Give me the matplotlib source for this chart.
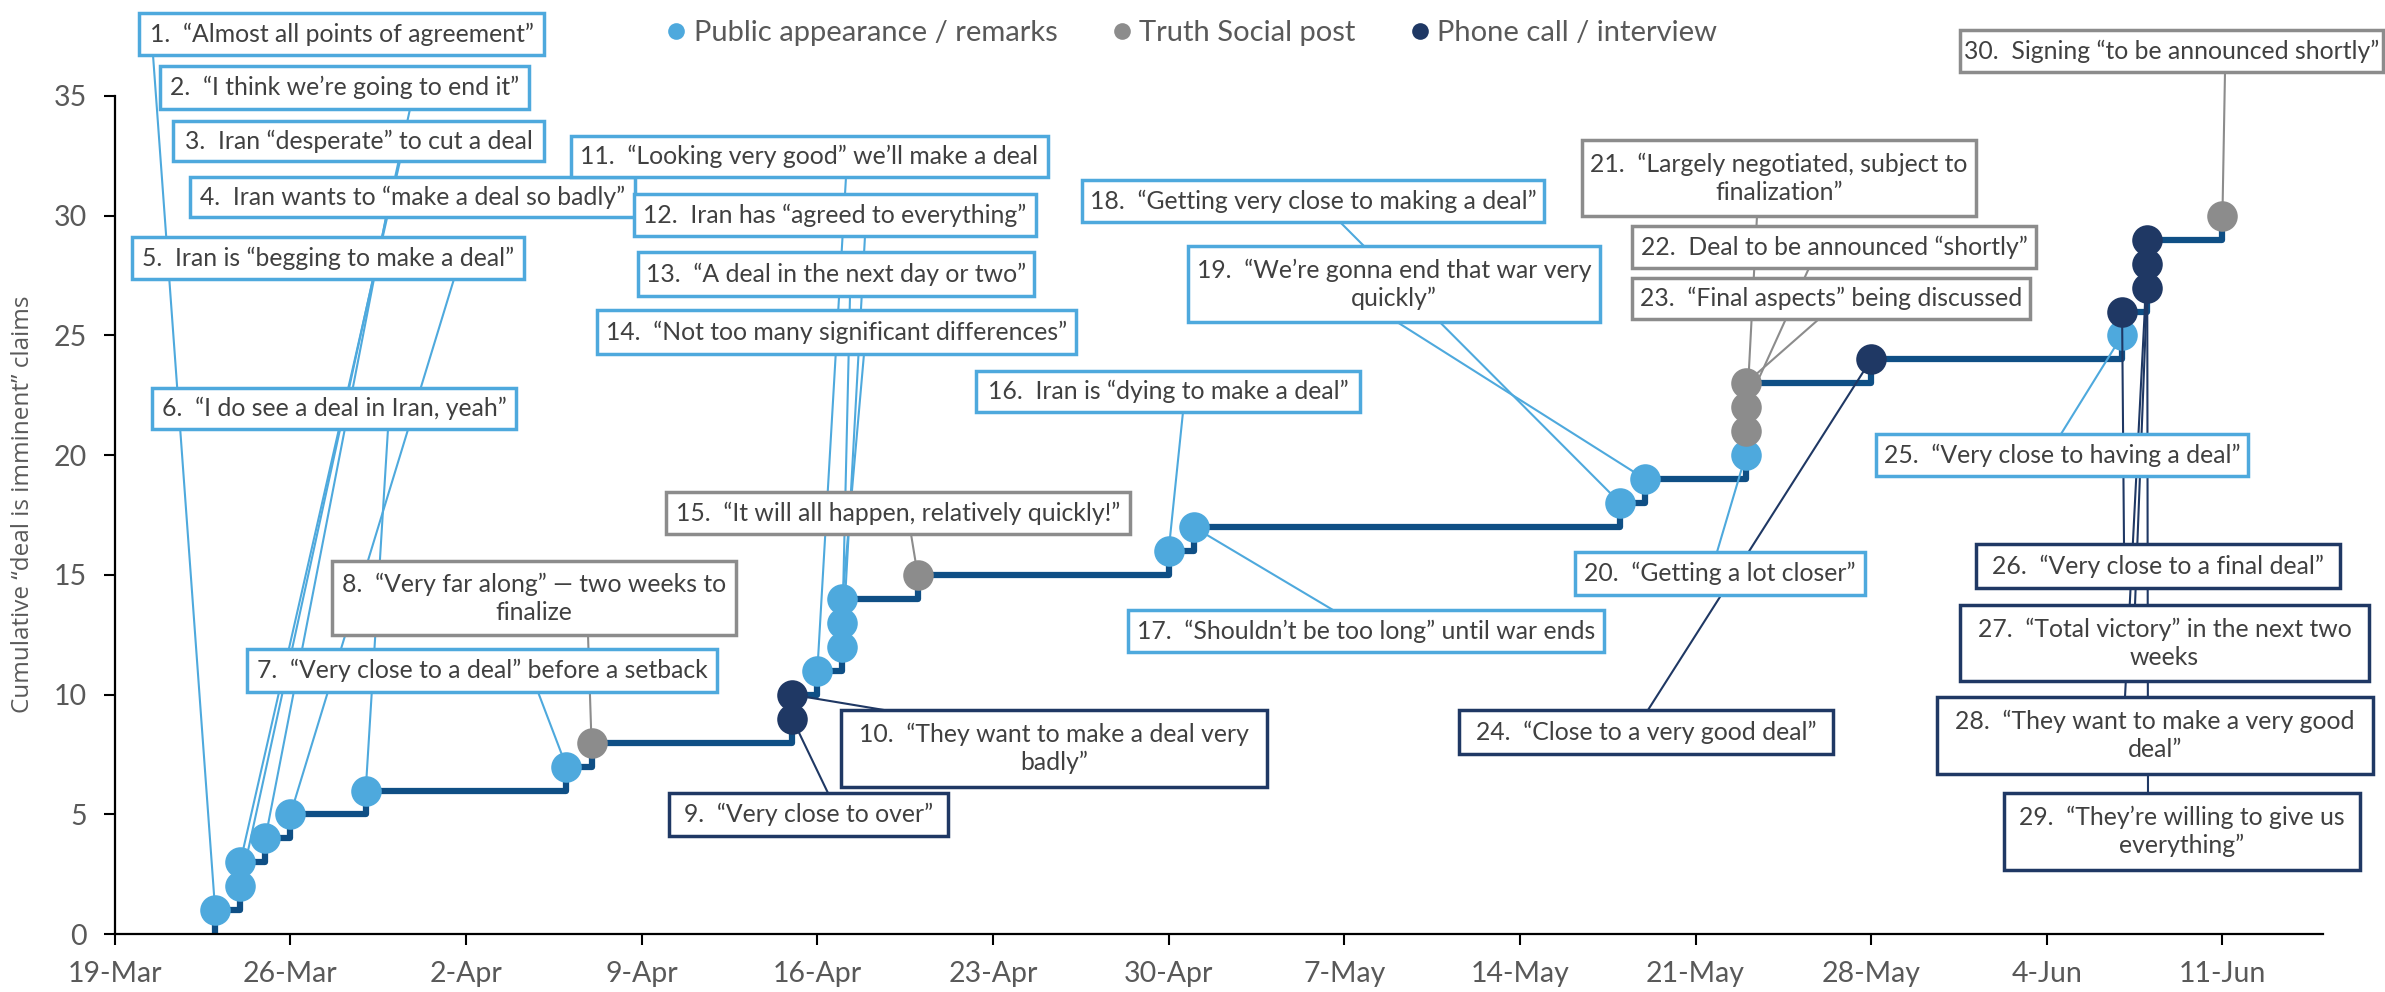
import matplotlib
matplotlib.use('Agg')
import matplotlib.pyplot as plt
import matplotlib.dates as mdates
from matplotlib.patches import Rectangle, ConnectionPatch
from matplotlib.lines import Line2D
import numpy as np
import pandas as pd

plt.rcParams['font.family'] = ['Lato', 'DejaVu Sans']

# --- data ---------------------------------------------------------------
dates = pd.to_datetime([
    '2026-03-23', '2026-03-24', '2026-03-24', '2026-03-25', '2026-03-26',
    '2026-03-29', '2026-04-06', '2026-04-07', '2026-04-15', '2026-04-15',
    '2026-04-16', '2026-04-17', '2026-04-17', '2026-04-17', '2026-04-20',
    '2026-04-30', '2026-05-01', '2026-05-18', '2026-05-19', '2026-05-23',
    '2026-05-23', '2026-05-23', '2026-05-23', '2026-05-28', '2026-06-07',
    '2026-06-07', '2026-06-08', '2026-06-08', '2026-06-08', '2026-06-11'])

# P = public appearance, T = Truth Social, C = phone call / interview
kinds = ['P', 'P', 'P', 'P', 'P', 'P', 'P', 'T', 'C', 'C',
         'P', 'P', 'P', 'P', 'T', 'P', 'P', 'P', 'P', 'P',
         'T', 'T', 'T', 'C', 'P', 'C', 'C', 'C', 'C', 'T']

quotes = [
    '“Almost all points of agreement”',
    '“I think we’re going to end it”',
    'Iran “desperate” to cut a deal',
    'Iran wants to “make a deal so badly”',
    'Iran is “begging to make a deal”',
    '“I do see a deal in Iran, yeah”',
    '“Very close to a deal” before a setback',
    '“Very far along” — two weeks to\nfinalize',
    '“Very close to over”',
    '“They want to make a deal very\nbadly”',
    '“Looking very good” we’ll make a deal',
    'Iran has “agreed to everything”',
    '“A deal in the next day or two”',
    '“Not too many significant differences”',
    '“It will all happen, relatively quickly!”',
    'Iran is “dying to make a deal”',
    '“Shouldn’t be too long” until war ends',
    '“Getting very close to making a deal”',
    '“We’re gonna end that war very\nquickly”',
    '“Getting a lot closer”',
    '“Largely negotiated, subject to\nfinalization”',
    'Deal to be announced “shortly”',
    '“Final aspects” being discussed',
    '“Close to a very good deal”',
    '“Very close to having a deal”',
    '“Very close to a final deal”',
    '“Total victory” in the next two\nweeks',
    '“They want to make a very good\ndeal”',
    '“They’re willing to give us\neverything”',
    'Signing “to be announced shortly”',
]

counts = np.arange(1, len(dates) + 1)

kind_names = {'P': 'Public appearance / remarks',
              'T': 'Truth Social post',
              'C': 'Phone call / interview'}
colors = {'P': '#4EA9DD', 'T': '#8C8C8C', 'C': '#1F3864'}
step_color = '#0F4F85'

# --- label layout (pixels, left/top/right/bottom) ------------------------
W, H = 2385, 992
boxes = [
    (139, 13, 544, 55), (160, 66, 529, 109), (173, 121, 544, 161),
    (190, 177, 635, 217), (132, 237, 524, 279), (152, 388, 516, 429),
    (247, 649, 717, 692), (332, 561, 736, 635), (669, 793, 948, 836),
    (841, 710, 1267, 787), (571, 136, 1048, 177), (634, 194, 1036, 236),
    (638, 252, 1034, 296), (597, 310, 1076, 354), (666, 492, 1130, 534),
    (976, 371, 1360, 412), (1128, 610, 1604, 652), (1082, 180, 1544, 222),
    (1188, 246, 1600, 322), (1575, 552, 1865, 595), (1582, 140, 1976, 216),
    (1632, 226, 2036, 268), (1632, 278, 2030, 319), (1459, 710, 1833, 754),
    (1876, 434, 2248, 476), (1976, 544, 2340, 588), (1960, 605, 2369, 681),
    (1937, 697, 2373, 774), (2004, 793, 2360, 870), (1960, 30, 2383, 72),
]
# where each leader line leaves its box
anchors = [
    (153, 55), (410, 109), (400, 161), (386, 217), (454, 279), (388, 429),
    (538, 692), (588, 635), (828, 793), (884, 710), (846, 177), (865, 236),
    (850, 296), (864, 354), (911, 534), (1183, 412), (1333, 610), (1340, 222),
    (1397, 322), (1717, 552), (1757, 216), (1809, 268), (1819, 319),
    (1648, 710), (2061, 434), (2124, 544), (2135, 605), (2125, 697),
    (2148, 793), (2225, 72),
]

fig = plt.figure(figsize=(W / 100, H / 100), dpi=100)
ax = fig.add_axes([114.8 / W, 1 - 934.2 / H, (2322.8 - 114.8) / W, (934.2 - 96) / H])

x = mdates.date2num(dates)
ax.plot(np.r_[x[0], x], np.r_[0, counts], drawstyle='steps-post',
        color=step_color, lw=4.5, zorder=2)
kinds_arr = np.array(kinds)
for k in ['P', 'T', 'C']:
    m = kinds_arr == k
    ax.plot(x[m], counts[m], 'o', ms=22, mew=0, color=colors[k], zorder=3)

ax.set_xlim(mdates.date2num(pd.Timestamp('2026-03-19')),
            mdates.date2num(pd.Timestamp('2026-06-15')))
ax.set_ylim(0, 35)
ticks = pd.date_range('2026-03-19', '2026-06-11', freq='7D')
ax.set_xticks(mdates.date2num(ticks))
ax.set_xticklabels([f"{d.day}-{d:%b}" for d in ticks])
ax.set_yticks(range(0, 36, 5))
for s in ['top', 'right']:
    ax.spines[s].set_visible(False)
for s in ['left', 'bottom']:
    ax.spines[s].set_linewidth(1.6)
ax.tick_params(direction='out', length=8, width=1.5, labelsize=20.5,
               labelcolor='#595959')
ax.tick_params(axis='x', pad=11)
ax.tick_params(axis='y', pad=12)
ax.set_ylabel('Cumulative “deal is imminent” claims', family='Open Sans',
              fontsize=17.5, color='#595959')
ax.yaxis.set_label_coords(-0.036, 0.513)

handles = [Line2D([], [], marker='o', ls='', ms=12, mew=0, color=colors[k])
           for k in 'PTC']
fig.legend(handles, [kind_names[k] for k in 'PTC'], loc='center',
           bbox_to_anchor=(0.5, 0.967), ncol=3, frameon=False, fontsize=21,
           handlelength=0.6, handletextpad=0.3, columnspacing=1.9,
           labelcolor='#595959')

for i, ((l, t, r, b), (sx, sy)) in enumerate(zip(boxes, anchors)):
    c = colors[kinds[i]]
    con = ConnectionPatch(xyA=(sx / W, 1 - sy / H), coordsA='figure fraction',
                          xyB=(x[i], counts[i]), coordsB='data', axesB=ax,
                          color=c, lw=1.5, zorder=4)
    fig.add_artist(con)
    fig.add_artist(Rectangle((l / W, 1 - b / H), (r - l) / W, (b - t) / H,
                             transform=fig.transFigure, facecolor='white',
                             edgecolor=c, lw=2.5, zorder=5))
    fig.text((l + r) / 2 / W, 1 - (t + b) / 2 / H, f"{i + 1}.  {quotes[i]}",
             ha='center', va='center', ma='center', fontsize=17.8,
             linespacing=1.25, color='#404040', zorder=6)

fig.savefig('out.png', dpi=100)
